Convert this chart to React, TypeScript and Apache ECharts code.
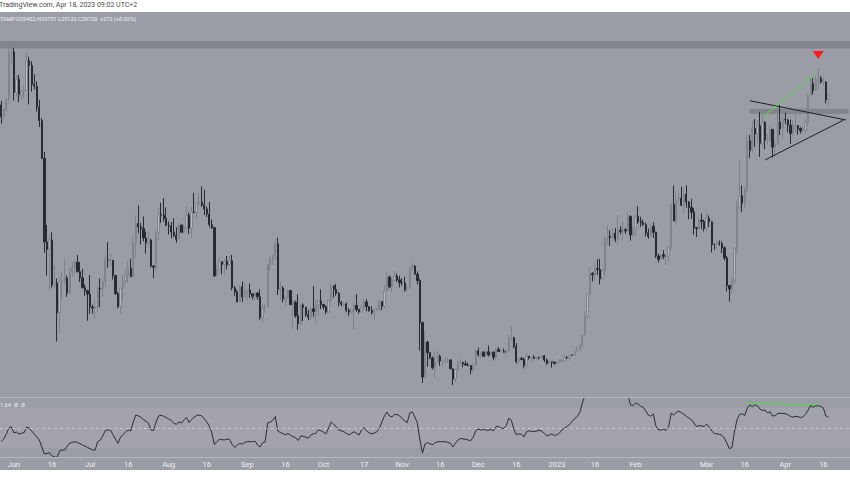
import React, { useEffect, useRef } from "react";
import * as echarts from "echarts";

// ---- Data (BITSTAMP BTCUSD daily, 2022-05-27 .. 2023-04-18) ----
const START_DATE = "2022-05-27";
const FIRST_OPEN = 29190;
const PAD_DAYS = 8;

const CLOSE = [
  // May 27-31
  28620, 28990, 29450, 31720, 31790,
  // Jun
  29800, 30450, 29700, 29860, 29900, 31370, 31130, 30200, 30110, 29090,
  28420, 26570, 22490, 22130, 22580, 20380, 20470, 19020, 20550, 20570,
  20720, 19990, 21100, 21230, 21500, 21030, 20730, 20260, 20100, 19930,
  // Jul
  19300, 19250, 19300, 20230, 20190, 20540, 21620, 21590, 21590, 20850,
  19960, 19330, 20230, 20580, 20830, 21200, 20790, 22430, 23390, 23230,
  23160, 22680, 22450, 22580, 21310, 21250, 22950, 23840, 23800, 23640, 23300,
  // Aug
  23270, 22980, 22820, 22620, 23310, 22960, 23180, 23800, 23160, 23950,
  23930, 24400, 24440, 24300, 24100, 23850, 23340, 23190, 20830, 21140,
  21520, 21400, 21530, 21370, 21570, 20240, 20040, 19550, 20290, 19800, 20050,
  // Sep
  20130, 19950, 19830, 19990, 19800, 18790, 19290, 19320, 21370, 21650,
  21830, 22400, 20180, 20230, 19700, 19800, 20110, 19420, 19540, 18880,
  18490, 19400, 19290, 18920, 18800, 19220, 19080, 19410, 19590, 19420,
  // Oct
  19310, 19060, 19630, 20340, 20160, 19960, 19530, 19420, 19450, 19130,
  19060, 19150, 19380, 19180, 19070, 19270, 19550, 19330, 19120, 19040,
  19170, 19210, 19570, 19330, 20090, 20770, 20290, 20600, 20820, 20630, 20490,
  // Nov
  20480, 20150, 20210, 21150, 21300, 20910, 20600, 18540, 15880, 17590,
  17070, 16810, 16330, 16620, 16900, 16660, 16690, 16700, 16710, 16280,
  15780, 16230, 16600, 16600, 16520, 16460, 16440, 16220, 16440, 17160,
  // Dec
  16980, 17090, 16890, 17110, 16970, 17090, 16840, 17230, 17130, 17130,
  17090, 17210, 17780, 17800, 17360, 16630, 16780, 16740, 16440, 16900,
  16820, 16830, 16780, 16840, 16830, 16920, 16710, 16550, 16630, 16600, 16540,
  // Jan 2023
  16610, 16670, 16670, 16850, 16830, 16950, 16940, 17120, 17180, 17440,
  17940, 18850, 19930, 20950, 20880, 21180, 21140, 20680, 21070, 22670,
  22780, 22710, 22920, 22630, 23060, 23010, 23080, 23030, 23740, 22830, 23120,
  // Feb
  23730, 23470, 23430, 23330, 22930, 22760, 23260, 22960, 21800, 21630,
  21860, 21780, 21790, 22200, 24330, 23520, 24570, 24630, 24280, 24830,
  24440, 24180, 23940, 23190, 23150, 23550, 23490, 23140,
  // Mar
  23640, 23470, 22360, 22350, 22430, 22410, 22200, 21700, 20360, 20190,
  20620, 22160, 24200, 24750, 24380, 25050, 27430, 26970, 28040, 27770,
  28170, 27300, 28330, 27480, 27480, 28000, 27130, 27270, 28350, 28030, 28480,
  // Apr
  28460, 28200, 27800, 28170, 28180, 28040, 27930, 27960, 28330, 29650,
  30240, 29900, 30390, 30490, 30320, 30320, 29450, 29720,
];

const HIGH = [
  29390, 29000, 29540, 32220, 32390,
  31980, 30650, 30660, 29950, 30150, 31760, 31550, 31330, 30700, 30350,
  29440, 28550, 26890, 23320, 22750, 22960, 21340, 20700, 20780, 21000,
  21700, 20850, 21200, 21500, 21580, 21850, 21500, 21170, 20410, 20150,
  20870, 19420, 19620, 20260, 20700, 20650, 21820, 22480, 21940, 21600,
  20860, 20040, 20250, 20860, 21200, 21560, 21660, 22700, 23780, 24270,
  23420, 23740, 22990, 22980, 22640, 21340, 23080, 24170, 24400, 24630, 24170,
  23490, 23450, 23640, 23210, 23440, 23350, 23360, 24230, 23930, 24220,
  24890, 24450, 24880, 25200, 25050, 24230, 24440, 23590, 23200, 21360,
  21690, 21520, 21640, 21800, 21800, 21850, 20330, 20140, 20380, 20550, 20460,
  20190, 20440, 19970, 20010, 20030, 20160, 19440, 19450, 21420, 21780,
  21850, 22480, 22700, 20520, 20320, 19880, 20170, 20110, 19660, 19620,
  19930, 19480, 19480, 19310, 19170, 19300, 20330, 19660, 19630, 20160,
  19460, 19390, 19700, 20450, 20360, 20440, 20050, 19600, 19510, 19520,
  19260, 19220, 19520, 19940, 19220, 19420, 19680, 19690, 19350, 19340,
  19240, 19250, 19690, 19600, 20380, 21000, 20850, 20750, 21070, 20930, 20830,
  20700, 20790, 20390, 21280, 21480, 21360, 21050, 20670, 18580, 18130,
  17650, 17070, 16880, 17190, 17110, 16980, 16730, 16870, 16810, 16750,
  16290, 16270, 16690, 16780, 16600, 16680, 16580, 16470, 16530, 17230,
  17320, 17100, 17150, 17190, 17420, 17110, 17130, 17300, 17350, 17220,
  17270, 17240, 17960, 18390, 17850, 17530, 16800, 16860, 16810, 17060,
  16900, 16860, 16950, 16860, 16860, 16940, 16960, 16780, 16650, 16630, 16640,
  16630, 16760, 16780, 16990, 16880, 16990, 16970, 17170, 17390, 17490,
  17990, 19100, 19960, 21260, 21010, 21460, 21640, 21650, 21190, 22760,
  23300, 23060, 23150, 23170, 23800, 23250, 23500, 23180, 23940, 23790, 23320,
  23800, 24240, 23720, 23590, 23440, 23150, 23360, 23450, 22990, 21920,
  21900, 22090, 21880, 22320, 24380, 25250, 24980, 24880, 25190, 25120,
  25260, 24480, 24600, 24140, 23210, 23680, 23870, 23580,
  23970, 23790, 23490, 22410, 22600, 22560, 22520, 22270, 21800, 20360,
  20790, 22230, 24530, 26500, 25260, 25230, 27760, 27720, 28420, 28500,
  28450, 28860, 28780, 28400, 27800, 28190, 28010, 27480, 29160, 29190, 28650,
  28810, 28520, 28480, 28440, 28750, 28180, 28100, 28150, 28500, 29760,
  30550, 30500, 30610, 31000, 30600, 30550, 30330, 29751,
];

const LOW = [
  28270, 28530, 28860, 29300, 31200,
  29400, 29590, 29320, 29480, 29520, 29880, 29220, 29850, 29950, 28870,
  28110, 26560, 21960, 20840, 20100, 20250, 20240, 17620, 17990, 19640,
  20360, 19800, 19920, 20780, 20920, 20990, 20530, 20200, 19850, 18630,
  18970, 18980, 18770, 19050, 19300, 19780, 20250, 21220, 21310, 20650,
  19900, 19240, 18930, 19620, 20400, 20500, 20780, 20760, 21680, 22920,
  22370, 22520, 21920, 22270, 21240, 20720, 21050, 22590, 23420, 23490, 23260,
  22850, 22670, 22720, 22450, 22590, 22930, 22860, 23150, 22880, 22680,
  23900, 23600, 24290, 24200, 23800, 23700, 23200, 23120, 20780, 20800,
  21080, 20900, 20890, 21150, 21320, 20120, 19850, 19540, 19530, 19550, 19790,
  19640, 19750, 19670, 19600, 19650, 18680, 18550, 19020, 19300, 21110,
  21360, 21570, 19890, 19640, 19520, 19330, 19690, 19390, 18250, 18770,
  18190, 18400, 18620, 18840, 18660, 18670, 18840, 18500, 18870, 19200,
  19170, 18960, 19000, 19500, 19770, 19860, 19330, 19350, 19320, 19050,
  18870, 18980, 18190, 19070, 18980, 19040, 19160, 19100, 19080, 18930,
  18670, 19110, 19070, 19160, 19250, 20060, 20220, 20020, 20560, 20540, 20260,
  20350, 20060, 20050, 20180, 21090, 20900, 20400, 17170, 15590, 15820,
  16380, 16750, 16250, 15820, 16550, 16430, 16400, 16560, 16560, 16260,
  15480, 15610, 16160, 16480, 16360, 16440, 16410, 16020, 16120, 16440,
  16870, 16790, 16870, 16880, 16880, 16920, 16690, 16740, 17100, 17090,
  17070, 16880, 17090, 17660, 17280, 16530, 16580, 16700, 16300, 16400,
  16730, 16570, 16760, 16780, 16740, 16790, 16600, 16470, 16500, 16340, 16490,
  16500, 16550, 16600, 16650, 16750, 16680, 16910, 16910, 17100, 17150,
  17320, 17910, 18720, 19900, 20560, 20610, 20870, 20420, 20670, 20880,
  22340, 22300, 22530, 22480, 22350, 22860, 22550, 22880, 23000, 22550, 22720,
  22800, 23380, 23230, 23270, 22760, 22640, 22730, 22680, 21700, 21480,
  21600, 21650, 21370, 21530, 22050, 23510, 23340, 24440, 24240, 23880,
  24160, 23600, 23620, 22850, 22730, 23060, 23110, 23000,
  23030, 23220, 21970, 22100, 22200, 22290, 21940, 21580, 20060, 19570,
  19920, 20450, 21900, 24100, 23960, 24170, 24920, 26600, 26880, 27130,
  27380, 26650, 27170, 27020, 27250, 27440, 26620, 26690, 27250, 27720, 27550,
  28260, 27860, 27280, 27680, 27830, 27730, 27790, 27880, 27810, 28180,
  29610, 29700, 29880, 30040, 30230, 30120, 29270, 29122,
];

const RSI = [
  36.5, 39, 44, 50, 51.3, 45, 46, 44, 44.8, 45.3,
  51, 49.7, 47, 44, 41, 38, 31, 24, 24.5, 25.3,
  22, 21, 20.7, 27.3, 28, 28, 32, 34.8, 35.7, 36.2,
  35.5, 34.4, 33, 31.8, 30.5, 29.3, 28, 28, 36.3, 37.7,
  42, 47.5, 48, 48, 43.5, 39, 34.7, 40.8, 43.5, 46,
  48, 47, 56, 63, 62.2, 60.8, 58.5, 56.7, 55, 48,
  47.5, 56, 62, 62.8, 61.7, 60.5, 59, 57.5, 55, 53.5,
  56.2, 55, 58, 60.5, 55.5, 58.5, 60.8, 62.5, 63, 62,
  59.5, 56, 52, 45, 33.5, 36.5, 38.7, 38.3, 38, 39,
  38.5, 33.5, 30.5, 33, 34.5, 34, 35.7, 36.3, 36.3, 36.3,
  36.8, 33, 31, 35.3, 36, 55, 56, 57.6, 61.5, 47,
  45.5, 44.5, 43.2, 44.3, 43, 41.2, 40.3, 37.5, 42, 41.8,
  40.8, 39.8, 43, 44.2, 44.7, 48.3, 47.2, 45.8, 44.2, 50,
  56, 54, 51, 48, 47.2, 46.3, 44.7, 43, 44.7, 46.3,
  44.7, 43, 48, 50.5, 47, 45.3, 44.2, 45, 46.2, 49.5,
  56, 62, 66, 62, 61, 63.7, 63.5, 62, 59.7, 57,
  55.5, 65, 66.2, 61, 55, 38, 25, 34, 35.5, 34.2,
  33.4, 35.2, 36.3, 36.3, 36.3, 36.3, 35.6, 34.8, 31, 34.8,
  38, 39.6, 39.1, 38.7, 38, 37.3, 40.7, 47.5, 49, 48,
  48.6, 47.8, 48, 48.5, 47.3, 51.5, 51.5, 49.7, 49.7, 52,
  59.7, 58, 49, 43.2, 44.2, 43.8, 41, 46, 47.2, 46.6,
  46.4, 47, 47.7, 46.8, 44.8, 42.2, 43, 44, 42.5, 43.2,
  45, 48, 50, 51.4, 54, 56.5, 59.5, 61.6, 65.5, 75,
  82, 85, 86, 87, 88, 87, 89, 88, 87, 85,
  86, 84, 85, 83, 84, 82, 83, 83, 73, 72.5,
  74.8, 74, 71.8, 70.8, 67, 63, 61.8, 64, 52, 48,
  48, 48.7, 47.6, 51, 65, 63, 65.5, 66.8, 65.5, 63.8,
  61.7, 60, 58.3, 55, 51.5, 52.5, 52, 51.4, 54, 51,
  47, 44.6, 44.2, 43.7, 42.7, 40, 34.6, 29.4, 30.5, 47,
  58.5, 63.6, 64.2, 62.4, 70, 73, 71.5, 73, 72.2, 69,
  67.5, 68, 65, 66.3, 62, 62.3, 64.5, 64.7, 64.7, 64.3,
  63.4, 61.6, 60.9, 61.6, 61.4, 60.2, 61.3, 63.8, 68, 72.5,
  70.7, 72.2, 72.3, 71.6, 70, 62, 61,
];

const TICK_LABELS: Record<string, string> = {
  "2022-06-01": "Jun", "2022-06-16": "16",
  "2022-07-01": "Jul", "2022-07-16": "16",
  "2022-08-01": "Aug", "2022-08-16": "16",
  "2022-09-01": "Sep", "2022-09-16": "16",
  "2022-10-01": "Oct", "2022-10-17": "17",
  "2022-11-01": "Nov", "2022-11-16": "16",
  "2022-12-01": "Dec", "2022-12-16": "16",
  "2023-01-01": "2023", "2023-01-16": "16",
  "2023-02-01": "Feb",
  "2023-03-01": "Mar", "2023-03-16": "16",
  "2023-04-01": "Apr", "2023-04-16": "16",
};

// annotations (date, price)
const TOP_ZONE = [31950, 32320];
const RIGHT_ZONE = { from: "2023-03-18", to: "2023-04-26", low: 28750, high: 29010 };
const TRI_UPPER = [["2023-03-18", 29400], ["2023-04-25", 28455]] as const;
const TRI_LOWER = [["2023-03-24", 26500], ["2023-04-24", 28455]] as const;
const PRICE_DIV = [["2023-03-23", 28590], ["2023-04-13", 30740]] as const;
const TOP_SIGNAL = ["2023-04-14", 31640] as const;
const RSI_DIV = [["2023-03-17", 74.7], ["2023-04-14", 73.3]] as const;

const HEADER = "TradingView.com, Apr 18, 2023 09:02 UTC+2";
const LEGEND = ["TAMP", "O29452", "H29751", "L29122", "C29720", "+272 (+0.92%)"];
const LEGEND_X = [0, 16, 37, 58, 78, 100];
const RSI_LEGEND = ["1.64", "\u00d8", "\u00d8"];
const RSI_LEGEND_X = [0, 14, 21];

const BG = "#9b9da6";
const FONT = "Roboto, 'Open Sans', sans-serif";

function buildCategories(n: number): string[] {
  const out: string[] = [];
  const start = Date.parse(START_DATE + "T00:00:00Z");
  for (let i = 0; i < n; i++) {
    out.push(new Date(start + i * 86400000).toISOString().slice(0, 10));
  }
  return out;
}

export default function App() {
  const ref = useRef<HTMLDivElement>(null);
  useEffect(() => {
    if (!ref.current) return;
    const chart = echarts.init(ref.current, undefined, { renderer: "svg" });
    const cats = buildCategories(CLOSE.length + PAD_DAYS);
    const candles = CLOSE.map((c, i) => [i === 0 ? FIRST_OPEN : CLOSE[i - 1], c, LOW[i], HIGH[i]]);

    const option: any = {
      animation: false,
      backgroundColor: "#ffffff",
      grid: [
        { left: -1, right: 0, top: 12, height: 385, show: true, backgroundColor: BG, borderWidth: 0 },
        { left: -1, right: 0, top: 398, height: 60, show: true, backgroundColor: BG, borderWidth: 0 },
      ],
      xAxis: [
        {
          type: "category", data: cats, gridIndex: 0,
          axisLine: { show: false }, axisTick: { show: false }, axisLabel: { show: false }, splitLine: { show: false },
        },
        {
          type: "category", data: cats, gridIndex: 1,
          axisLine: { show: false }, axisTick: { show: false }, splitLine: { show: false },
          axisLabel: {
            interval: (_i: number, v: string) => !!TICK_LABELS[v],
            formatter: (v: string) => TICK_LABELS[v] || "",
            color: "#eceef2", fontSize: 7.5, margin: 2, fontFamily: FONT,
          },
        },
      ],
      yAxis: [
        { type: "value", gridIndex: 0, min: 14900, max: 33740, show: false },
        { type: "value", gridIndex: 1, min: 20, max: 80, show: false },
      ],
      series: [
        {
          type: "candlestick",
          xAxisIndex: 0, yAxisIndex: 0,
          data: candles,
          barWidth: 1.8,
          itemStyle: {
            color: "#b8bac1", borderColor: "#80838c",
            color0: "#272a33", borderColor0: "#272a33", borderWidth: 1,
          },
          markArea: {
            silent: true,
            data: [
              [{ yAxis: TOP_ZONE[0], itemStyle: { color: "rgba(70,72,84,0.28)" } }, { yAxis: TOP_ZONE[1] }],
              [
                { xAxis: RIGHT_ZONE.from, yAxis: RIGHT_ZONE.low, itemStyle: { color: "rgba(70,72,84,0.28)" } },
                { xAxis: RIGHT_ZONE.to, yAxis: RIGHT_ZONE.high },
              ],
            ],
          },
          markLine: {
            silent: true, symbol: "none", label: { show: false },
            data: [
              [
                { coord: [TRI_UPPER[0][0], TRI_UPPER[0][1]], lineStyle: { color: "#1d1f26", width: 1, type: "solid" } },
                { coord: [TRI_UPPER[1][0], TRI_UPPER[1][1]] },
              ],
              [
                { coord: [TRI_LOWER[0][0], TRI_LOWER[0][1]], lineStyle: { color: "#1d1f26", width: 1, type: "solid" } },
                { coord: [TRI_LOWER[1][0], TRI_LOWER[1][1]] },
              ],
              [
                { coord: [PRICE_DIV[0][0], PRICE_DIV[0][1]], lineStyle: { color: "#4ddb3a", width: 1, type: "solid" } },
                { coord: [PRICE_DIV[1][0], PRICE_DIV[1][1]] },
              ],
            ],
          },
          markPoint: {
            silent: true,
            data: [
              {
                coord: [TOP_SIGNAL[0], TOP_SIGNAL[1]], symbol: "triangle", symbolRotate: 180,
                symbolSize: [11, 8], itemStyle: { color: "#ff1a1a" }, label: { show: false },
              },
            ],
          },
        },
        {
          type: "line",
          xAxisIndex: 1, yAxisIndex: 1,
          data: RSI,
          symbol: "none",
          lineStyle: { color: "#2a2d36", width: 1 },
          markArea: {
            silent: true,
            data: [[{ yAxis: 30, itemStyle: { color: "rgba(255,255,255,0.07)" } }, { yAxis: 70 }]],
          },
          markLine: {
            silent: true, symbol: "none", label: { show: false },
            data: [
              { yAxis: 50, lineStyle: { color: "rgba(230,232,238,0.55)", width: 1, type: [3, 3] } },
              [
                { coord: [RSI_DIV[0][0], RSI_DIV[0][1]], lineStyle: { color: "#4ddb3a", width: 1, type: "solid" } },
                { coord: [RSI_DIV[1][0], RSI_DIV[1][1]] },
              ],
            ],
          },
        },
      ],
      graphic: [
        { type: "rect", shape: { x: 0, y: 458, width: 850, height: 12 }, style: { fill: BG }, z: -1 },
        { type: "rect", shape: { x: 0, y: 397, width: 850, height: 1 }, style: { fill: "#b6b8bf" }, z: 10 },
        { type: "rect", shape: { x: 0, y: 457, width: 850, height: 1 }, style: { fill: "#b6b8bf" }, z: 10 },
        {
          type: "text", x: -1, y: 1, z: 20,
          style: { text: HEADER, fill: "#4a4a4a", font: `7px ${FONT}` },
        },
        ...LEGEND.map((t, i) => ({
          type: "text", x: LEGEND_X[i], y: 16, z: 20,
          style: { text: t, fill: "#f2f3f5", font: `5.6px ${FONT}` },
        })),
        ...RSI_LEGEND.map((t, i) => ({
          type: "text", x: RSI_LEGEND_X[i], y: 402, z: 20,
          style: { text: t, fill: "#f2f3f5", font: `5.6px ${FONT}` },
        })),
      ],
    };
    chart.setOption(option);
    return () => chart.dispose();
  }, []);

  return (
    <div style={{ position: "absolute", left: 0, top: 0, width: 850, height: 486, background: "#fff" }}>
      <div ref={ref} style={{ width: 850, height: 486 }} />
    </div>
  );
}
